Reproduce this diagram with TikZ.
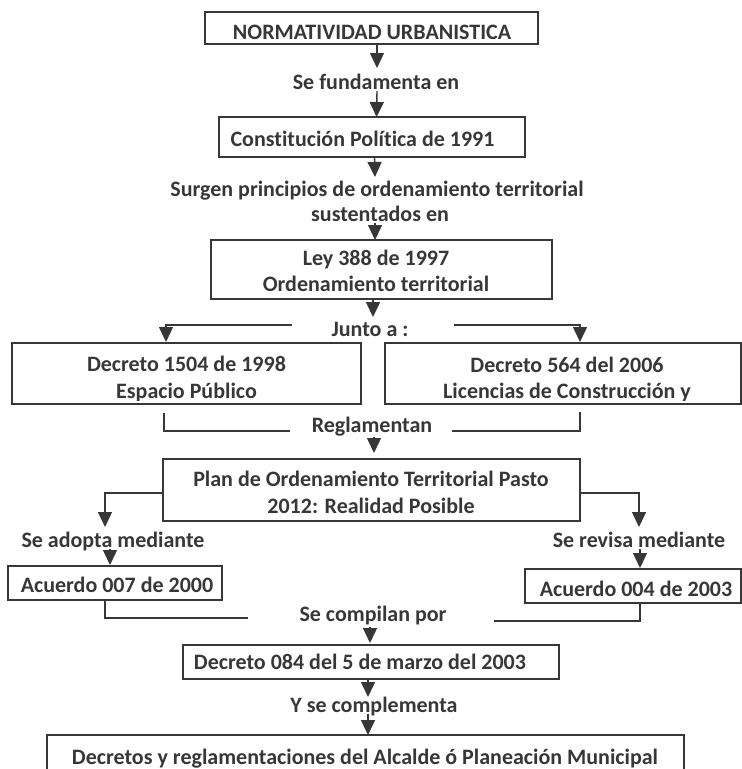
\documentclass[tikz,border=0pt]{standalone}
\usepackage{fontspec}
\setmainfont{Carlito}[Ligatures=NoCommon]
\usetikzlibrary{arrows.meta}
\definecolor{dk}{RGB}{55,55,55}
\begin{document}
\begin{tikzpicture}[x=1pt,y=-1pt,
  box/.style={draw=dk, line width=1.4pt, inner sep=0pt, outer sep=0pt, anchor=north west},
  txt/.style={text=dk, font=\fontsize{22}{26}\selectfont\bfseries, inner sep=0pt, anchor=base},
  conn/.style={draw=dk, line width=1.4pt},
  arr/.style={conn, -{Triangle[width=14pt,length=15pt]}}]
\useasboundingbox (0,0) rectangle (742,769);
\clip (0,0) rectangle (742,769);

% boxes
\node[box, minimum width=333pt, minimum height=32pt] (b1) at (205,12) {};
\node[box, minimum width=306pt, minimum height=40pt] (b2) at (219,117) {};
\node[box, minimum width=341pt, minimum height=59pt] (b3) at (211,240) {};
\node[box, minimum width=349pt, minimum height=61pt] (b4) at (12,343) {};
\node[box, minimum width=356pt, minimum height=61pt] (b5) at (385,343) {};
\node[box, minimum width=417pt, minimum height=62pt] (b6) at (163,459) {};
\node[box, minimum width=214pt, minimum height=34pt] (b7) at (8,566) {};
\node[box, minimum width=216pt, minimum height=34pt] (b8) at (525,569) {};
\node[box, minimum width=376pt, minimum height=34pt] (b9) at (183,645) {};
\node[box, minimum width=637pt, minimum height=60pt] (b10) at (47,735) {};

% box texts
\node[txt] (t1) at (372,39.3) {NORMATIVIDAD URBANISTICA};
\node[txt] (t2) at (362.5,146) {Constitución Política de 1991};
\node[txt] (t3a) at (376,265) {Ley 388 de 1997};
\node[txt] (t3b) at (376,291) {Ordenamiento territorial};
\begin{scope}
\clip (12,343) rectangle (361,400);
\node[txt] (t4a) at (186.5,371.7) {Decreto 1504 de 1998};
\node[txt] (t4b) at (186.5,398.5) {Espacio Público};
\end{scope}
\begin{scope}
\clip (385,343) rectangle (741,400);
\node[txt] (t5a) at (567,372) {Decreto 564 del 2006};
\node[txt] (t5b) at (567,398.5) {Licencias de Construcción y};
\end{scope}
\node[txt] (t6a) at (371,486.7) {Plan de Ordenamiento Territorial Pasto};
\node[txt] (t6b) at (371,513.3) {2012: Realidad Posible};
\node[txt] (t7) at (117,592.7) {Acuerdo 007 de 2000};
\node[txt] (t8) at (636,596.5) {Acuerdo 004 de 2003};
\node[txt] (t9) at (360,669) {Decreto 084 del 5 de marzo del 2003};
\node[txt] (t10) at (365,764) {Decretos y reglamentaciones del Alcalde ó Planeación Municipal};

% labels
\node[txt] (l1) at (376,89) {Se fundamenta en};
\node[txt] (l2a) at (377,196) {Surgen principios de ordenamiento territorial};
\node[txt] (l2b) at (380,221.7) {sustentados en};
\node[txt] (l3) at (370,336.7) {Junto a :};
\node[txt] (l4) at (372,432.7) {Reglamentan};
\node[txt] (l5) at (113,547.3) {Se adopta mediante};
\node[txt] (l6) at (639,547.3) {Se revisa mediante};
\node[txt] (l7) at (373,621) {Se compilan por};
\node[txt] (l8) at (374,712.3) {Y se complementa};

% connectors
\draw[arr] ([xshift=5.5pt]b1.south) -- (377,68);
\draw[arr] (377,91) -- ([xshift=4.5pt]b2.north);
\draw[arr] ([xshift=2.5pt]b2.south) -- (375,177);
\draw[arr] (375,223) -- ([xshift=-6.5pt]b3.north);
\draw[arr] ([xshift=-8.5pt]b3.south) -- (373,317);
\draw[arr] (292,325) -- (166,325) -- (166,342);
\draw[arr] (454,325) -- (580,325) -- (580,342);
\draw[conn] (164,413) -- (164,431) -- (290,431);
\draw[conn] (580,412) -- (580,431) -- (452,431);
\draw[arr] (374,437) -- (374,453);
\draw[arr] (b6.west |- 0,493) -- (105,493) -- (105,527);
\draw[arr] (110,549) -- (110,565);
\draw[arr] (b6.east |- 0,493) -- (639,493) -- (639,527);
\draw[arr] (640,549) -- (640,568);
\draw[conn] (b7.south -| 105,0) -- (105,618) -- (248,618);
\draw[conn] (b8.south -| 640,0) -- (640,621) -- (494,621);
\draw[arr] (370,627) -- (370,643);
\draw[arr] ([xshift=-3pt]b9.south) -- (368,697);
\draw[arr] (368,714) -- ([xshift=2.5pt]b10.north);
\end{tikzpicture}
\end{document}
